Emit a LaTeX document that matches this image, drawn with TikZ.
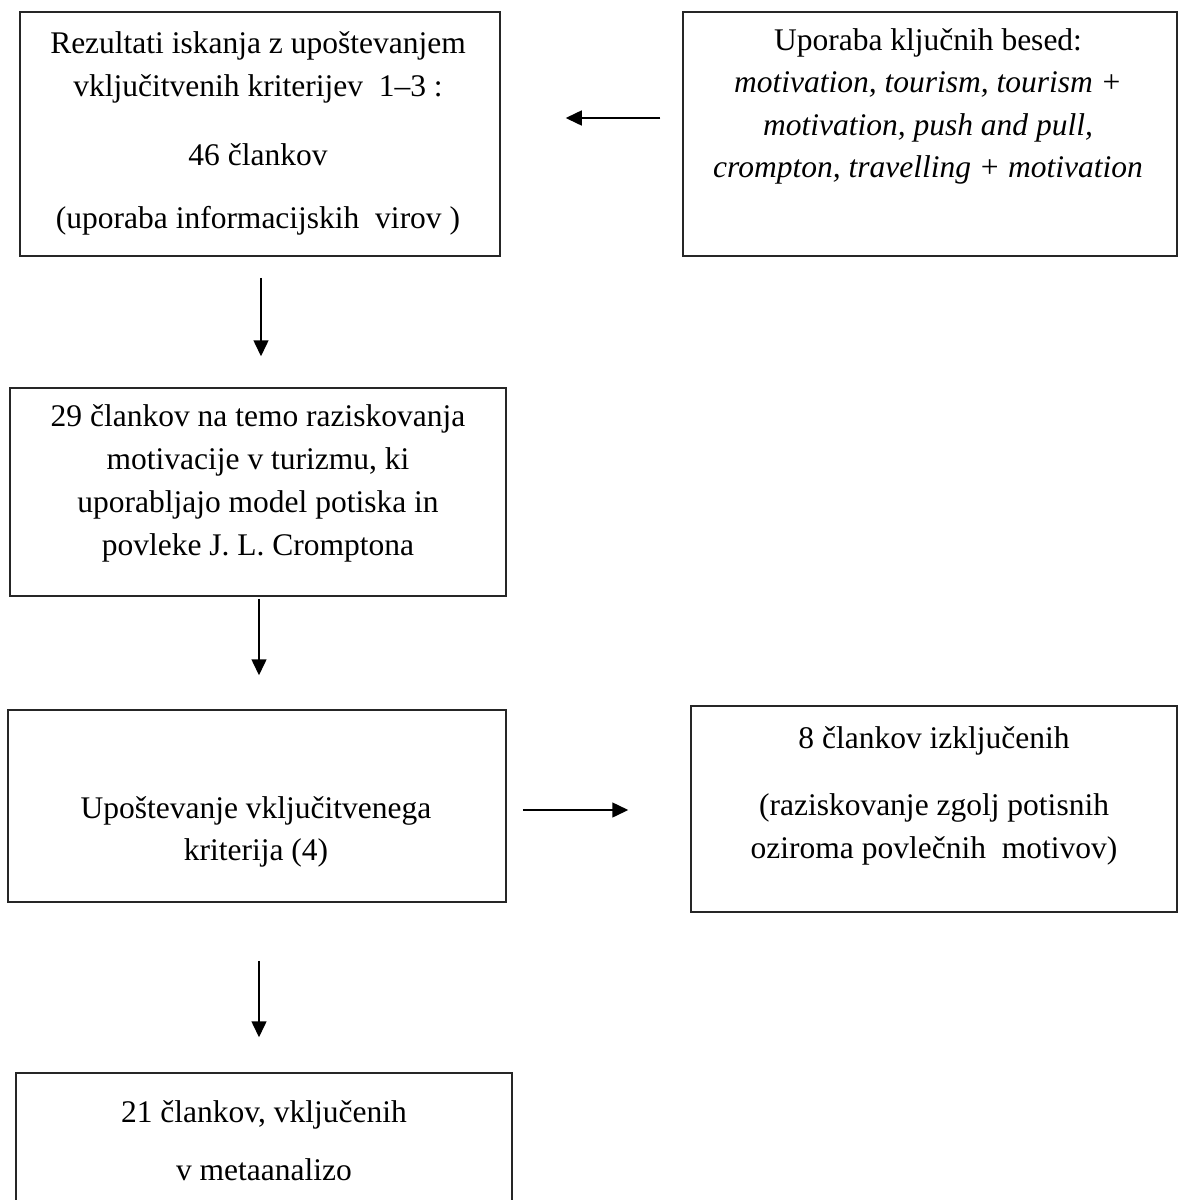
\documentclass[tikz,border=0pt]{standalone}
\usepackage{fontspec}
\setmainfont{Liberation Serif}
\usetikzlibrary{arrows.meta}
\begin{document}
\begin{tikzpicture}[x=1pt,y=-1pt,
  box/.style={draw=black!85, line width=1.5pt, inner sep=0pt, minimum width=#1},
  txt/.style={anchor=base, inner sep=0pt, font=\fontsize{31.5}{36}\selectfont},
  arr/.style={draw=black, line width=1.5pt, -{Triangle[length=16pt,width=15pt]}}]
\useasboundingbox (0,0) rectangle (1178,1200);
% boxes
\node[box=480pt, minimum height=244pt] (b1) at (260,134) {};
\node[box=494pt, minimum height=244pt] (b2) at (930,134) {};
\node[box=496pt, minimum height=208pt] (b3) at (258,492) {};
\node[box=498pt, minimum height=192pt] (b4) at (257,806) {};
\node[box=486pt, minimum height=206pt] (b5) at (934,809) {};
\node[box=496pt, minimum height=200pt] (b6) at (264,1173) {};
% texts box 1
\node[txt] (t1a) at (258,53) {Rezultati iskanja z upoštevanjem};
\node[txt] (t1b) at (258,96) {vključitvenih kriterijev\ \ 1–3 :};
\node[txt] (t1c) at (258,165) {46 člankov};
\node[txt] (t1d) at (258,228) {(uporaba informacijskih\ \ virov )};
% texts box 2
\node[txt] (t2a) at (928,50) {Uporaba ključnih besed:};
\node[txt] (t2b) at (928,92) {\itshape motivation, tourism, tourism +};
\node[txt] (t2c) at (928,135) {\itshape motivation, push and pull,};
\node[txt] (t2d) at (928,177) {\itshape crompton, travelling + motivation};
% texts box 3
\node[txt] (t3a) at (258,426) {29 člankov na temo raziskovanja};
\node[txt] (t3b) at (258,469) {motivacije v turizmu, ki};
\node[txt] (t3c) at (258,512) {uporabljajo model potiska in};
\node[txt] (t3d) at (258,555) {povleke J. L. Cromptona};
% texts box 4
\node[txt] (t4a) at (256,818) {Upoštevanje vključitvenega};
\node[txt] (t4b) at (256,860) {kriterija (4)};
% texts box 5
\node[txt] (t5a) at (934,748) {8 člankov izključenih};
\node[txt] (t5b) at (934,815) {(raziskovanje zgolj potisnih};
\node[txt] (t5c) at (934,858) {oziroma povlečnih\ \ motivov)};
% texts box 6
\node[txt] (t6a) at (264,1122) {21 člankov, vključenih};
\node[txt] (t6b) at (264,1180) {v metaanalizo};
% arrows
\draw[arr] ([shift={(-22,-16)}]b2.west) -- ([shift={(65,-16)}]b1.east);
\draw[arr] ([shift={(1,21)}]b1.south) -- ([shift={(3,-31)}]b3.north);
\draw[arr] ([shift={(1,2)}]b3.south) -- ([shift={(2,-34)}]b4.north);
\draw[arr] ([shift={(16,4)}]b4.east) -- ([shift={(-62,1)}]b5.west);
\draw[arr] ([shift={(2,58)}]b4.south) -- ([shift={(-5,-35)}]b6.north);
\end{tikzpicture}
\end{document}
